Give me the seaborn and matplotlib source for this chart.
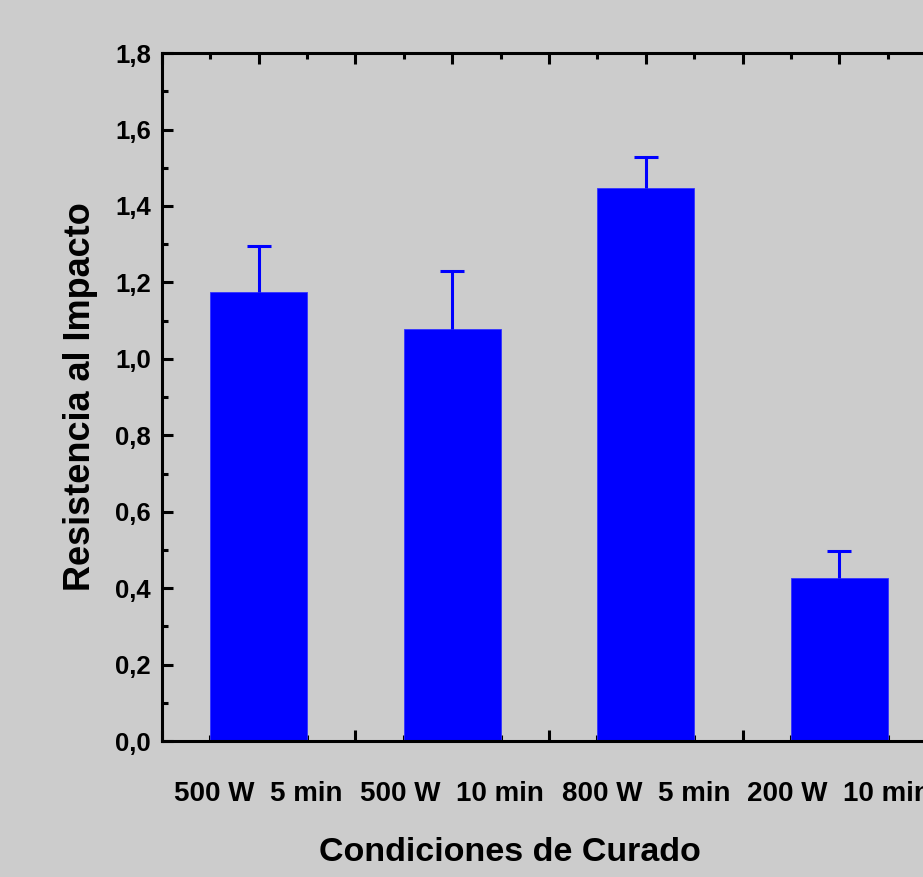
import numpy as np
import pandas as pd
import matplotlib
matplotlib.use("Agg")
import matplotlib.pyplot as plt
import seaborn as sns
from matplotlib.ticker import MultipleLocator, FuncFormatter

# ===================== DATOS ==========================
condiciones = ["500 W  5 min", "500 W  10 min", "800 W  5 min", "200 W  10 min"]
resistencia = [1.175, 1.078, 1.447, 0.427]
error_sup = [0.120, 0.152, 0.081, 0.070]

df = pd.DataFrame({"cond": condiciones, "res": resistencia})

sns.set_style("ticks")
plt.rcParams["font.family"] = ["Liberation Sans", "DejaVu Sans"]
plt.rcParams["font.weight"] = "bold"
plt.rcParams["text.color"] = "black"
plt.rcParams["axes.labelcolor"] = "black"
plt.rcParams["xtick.color"] = "black"
plt.rcParams["ytick.color"] = "black"

gris = "#cccccc"
fig = plt.figure(figsize=(9.23, 8.77), dpi=100, facecolor=gris)
ax = fig.add_axes([0.1755, 0.155, 0.8386, 0.7845])
ax.set_facecolor(gris)

sns.barplot(data=df, x="cond", y="res", color="#0000ff", saturation=1,
            width=0.5, edgecolor="#3333ff", linewidth=0.6, ax=ax, errorbar=None)

# barras de error solo hacia arriba
xs = np.arange(len(condiciones))
_, caps, _ = ax.errorbar(xs, resistencia, yerr=[np.zeros(len(error_sup)), error_sup],
                         fmt="none", ecolor="#0000ff", elinewidth=2.2,
                         capsize=8.5, capthick=2.2)
caps[0].set_visible(False)  # sin tapa inferior

ax.set_xlim(-0.5, 3.5)
ax.set_ylim(0, 1.8)

# ticks eje y
ax.yaxis.set_major_locator(MultipleLocator(0.2))
ax.yaxis.set_minor_locator(MultipleLocator(0.1))
ax.yaxis.set_major_formatter(FuncFormatter(lambda v, p: f"{v:.1f}".replace(".", ",")))

# ticks eje x: mayores cada 0.5, etiquetas solo en las barras
pos_may = np.arange(-0.5, 3.51, 0.5)
etiquetas = [condiciones[int(round(p))] if abs(p - round(p)) < 1e-6 else ""
             for p in pos_may]
ax.set_xticks(pos_may)
ax.set_xticklabels(etiquetas)
ax.xaxis.set_minor_locator(MultipleLocator(0.25))

ax.tick_params(axis="both", which="both", direction="in", top=True, right=True,
               width=2.2, color="black", labelcolor="black")
ax.tick_params(axis="both", which="major", length=8)
ax.tick_params(axis="both", which="minor", length=4.5)
ax.tick_params(axis="y", which="major", labelsize=18.5, pad=8)
ax.tick_params(axis="x", which="major", labelsize=20, pad=29)

for s in ax.spines.values():
    s.set_linewidth(2.2)
    s.set_color("black")

ax.set_xlabel("Condiciones de Curado", fontsize=24.5, fontweight="bold")
ax.xaxis.set_label_coords(0.45, -0.14)
ax.set_ylabel("Resistencia al Impacto", fontsize=26, fontweight="bold", labelpad=12)

fig.savefig("out.png", dpi=100, facecolor=gris)
